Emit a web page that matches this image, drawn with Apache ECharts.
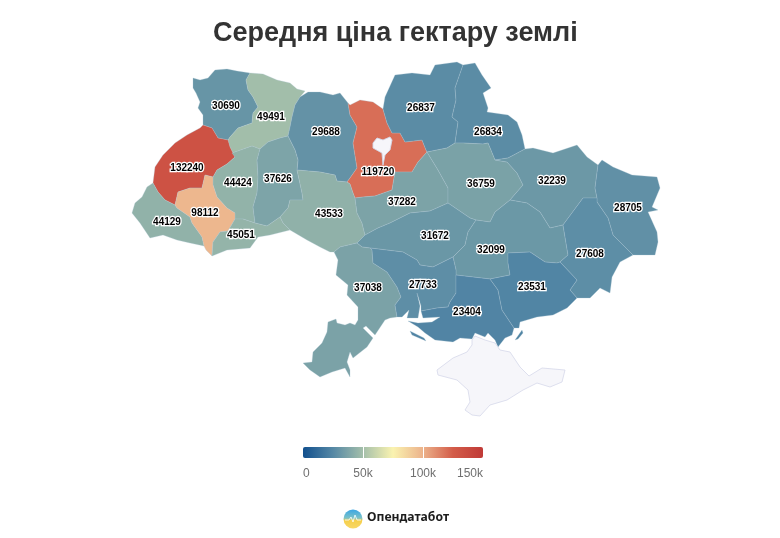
<!DOCTYPE html>
<html>
<head>
<meta charset="utf-8">
<style>html,body{margin:0;background:#fff}#main{width:780px;height:538px}</style>
<script src="https://cdn.jsdelivr.net/npm/echarts@6/dist/echarts.min.js"></script>
</head>
<body>
<div id="main"></div>
<script>
var regionNames = ['Volyn','Rivne','Zhytomyr','Kyiv','Chernihiv','Sumy','Lviv','Ternopil','Khmelnytskyi','Vinnytsia','Zakarpattia','IvanoFrankivsk','Chernivtsi','Cherkasy','Poltava','Kharkiv','Luhansk','Kirovohrad','Dnipro','Donetsk','Odesa','Mykolaiv','Kherson','Zaporizhzhia','Crimea','KyivCity'];
var regionValues = [30690,49491,29688,119720,26837,26834,132240,44424,37626,43533,44129,98112,45051,37282,36759,32239,28705,31672,32099,27608,37038,27733,23404,23531,null,null];
var legendTicks = [50000,100000];
var legendMax = 150000;
var palette = ['#12508e','#5588a5','#a4bfaa','#faf3b0','#ecb28b','#d35c49','#c03a37'];

// outlines, shared borders kept once
var arcs = {
  volN:'193,78 200,80 208,78 215,70 227,69 237,71 250,73',
  volRiv:'250,73 246,80 248,90 253,97 258,107 253,113 252,123 238,128 230,137 228,140',
  volLviv:'228,140 218,138 212,128 203,125',
  volW:'203,125 203,115 198,108 200,102 196,93 193,88 193,78',
  rivN:'250,73 263,74 277,80 290,83 297,89 305,91 300,97',
  rivZhy:'300,97 295,105 292,117 290,127 288,136',
  rivKhm:'288,136 280,138 268,142 260,149',
  rivTer:'260,149 252,146 232,153 235,157',
  rivLviv:'235,157 230,147 228,140',
  lvivTer:'235,157 227,164 217,170 213,177',
  lvivIf:'213,177 205,175 202,188 190,188 178,192 175,205',
  lvivZak:'175,205 165,200 158,192 153,183',
  lvivW:'153,183 155,167 163,155 175,143 187,135 200,128 203,125',
  ifTer:'213,177 213,185 217,197 227,208 235,213 235,219',
  ifChe:'235,219 228,231 220,232 213,242 212,256',
  ifS:'212,256 206,250 204,246',
  ifZak:'204,246 202,237 192,223 190,217 177,208 175,205',
  zakS:'204,246 190,243 177,240 163,235 150,238 140,223 132,213 135,203 142,197 147,187 153,183',
  terChe:'235,219 243,219 255,223',
  terKhm:'260,149 257,160 258,177 257,193 253,207 255,223',
  khmChe:'255,223 267,226 280,217',
  vinChe:'280,217 283,223 290,230',
  cheS:'290,230 270,235 258,237 250,248 227,250 212,256',
  khmZhy:'288,136 295,150 298,160 297,170',
  khmVin:'297,170 302,193 303,200 290,200 288,208 280,217',
  zhyVin:'297,170 320,172 335,175 337,181 347,182',
  zhyN:'300,97 308,92 320,92 333,95 340,93 348,103',
  zhyKyi:'348,103 350,115 357,127 353,143 357,168 350,178 347,182',
  vinKyi:'347,182 350,184 353,193 355,198',
  vinChk:'355,198 357,213 362,223 365,235',
  vinKir:'365,235 357,243',
  vinOde:'357,243 340,247 334,252',
  vinS:'334,252 330,252 320,247 307,240 290,230',
  kyiN:'348,103 350,105 360,100 373,102 383,109',
  kyiChn:'383,109 387,123 392,133 400,133 405,142 422,140 426,150 427,152',
  kyiChk:'427,152 418,162 412,172 395,172 392,190 375,196 363,197 355,198',
  chkPol:'427,152 438,170 448,188 448,203',
  chkKir:'365,235 378,228 390,223 410,213 430,211 448,203',
  chnN:'383,109 385,97 395,75 412,73 430,75 435,65 457,62 463,65',
  chnSum:'463,65 455,88 456,100 452,117 458,122 455,143',
  chnPol:'427,152 447,148 455,143',
  sumN:'463,65 475,63 482,75 491,88 483,93 488,108 487,112 508,115 517,122 522,135 525,149',
  sumKha:'525,149 508,158 495,160',
  sumPol:'455,143 463,143 483,144 488,143 495,160',
  polKha:'495,160 507,162 517,173 523,185 510,200',
  polDni:'510,200 495,212 490,222 476,220',
  polKir:'476,220 470,218 448,203',
  kirDni:'476,220 468,232 465,245 453,257',
  kirOde:'357,243 362,247 370,248',
  kirMyk:'370,248 403,252 417,260 420,265 433,267 453,257',
  mykDni:'453,257 456,270 456,275',
  kheDni:'456,275 490,279',
  zapDni:'490,279 510,275 508,263 508,253 530,252 545,262 557,263 560,262',
  donDni:'560,262 568,255 563,225',
  khaDni:'563,225 550,228 540,212 527,203 510,200',
  khaN:'525,149 533,148 553,153 577,145 587,157 598,165',
  khaLuh:'598,165 595,188 597,198',
  khaDon:'597,198 583,198 563,225',
  luhN:'598,165 602,160 613,167 632,175 657,177 660,188 652,207 658,210 648,212 657,232 658,242 655,255 633,255',
  luhDon:'597,198 597,202 608,218 613,235 633,255',
  donS:'633,255 620,262 612,277 610,293 600,288 590,298 577,298',
  donZap:'560,262 577,280 570,290 577,298',
  zapS:'577,298 567,308 553,315 537,317 520,322 519,328 514,328',
  zapKhe:'490,279 498,290 502,310 514,328',
  kheS:'514,328 512,335 505,338 498,347 495,340 488,333 485,337 475,333 472,339 460,338 453,342 435,340 425,333 418,327 408,321 418,323 432,322 440,317 423,318 421,311',
  mykKhe:'456,275 456,293 450,302 448,307 437,308 421,311',
  mykS:'397,317 402,317 409,310 407,318 418,318 420,306 417,293 421,306 421,311',
  odeMyk:'370,248 372,250 373,263 387,272 397,287 401,297 395,305 397,317',
  odeS:'334,252 338,260 336,275 348,285 347,295 358,307 358,320 355,325 350,323 345,325 337,323 336,319 328,322 327,332 322,343 313,352 312,362 303,363 310,370 320,377 332,372 345,368 350,377 350,370 347,362 350,352 353,358 367,347 373,338 363,328 366,326 375,335 385,320 390,318 397,317',
  crimea:'472,340 475,336 485,340 495,343 500,350 510,352 520,367 529,376 542,368 565,370 562,382 550,387 537,383 523,390 507,400 490,405 480,416 472,415 465,410 470,402 468,390 457,380 438,375 437,370 453,358 467,352 472,345 472,340',
  city:'373,143 377,138 383,140 390,137 392,140 390,150 385,155 383,165 382,153 373,148 373,143',
  tendra:'410,331 424,338 426,341 412,335 410,331',
  spit:'515,340 522,330 523,333 518,339 515,340'
};

var regionRings = {
  Volyn:[['volN','volRiv','volLviv','volW']],
  Rivne:[['rivN','rivZhy','rivKhm','rivTer','rivLviv','-volRiv']],
  Lviv:[['-volLviv','-rivLviv','lvivTer','lvivIf','lvivZak','lvivW']],
  Ternopil:[['-rivTer','terKhm','-terChe','-ifTer','-lvivTer']],
  IvanoFrankivsk:[['ifTer','ifChe','ifS','ifZak','-lvivIf']],
  Zakarpattia:[['-ifZak','zakS','-lvivZak']],
  Chernivtsi:[['terChe','khmChe','vinChe','cheS','-ifChe']],
  Khmelnytskyi:[['-rivKhm','khmZhy','khmVin','-khmChe','-terKhm']],
  Zhytomyr:[['zhyN','zhyKyi','-zhyVin','-khmZhy','-rivZhy']],
  Vinnytsia:[['zhyVin','vinKyi','vinChk','vinKir','vinOde','vinS','-vinChe','-khmVin']],
  Kyiv:[['kyiN','kyiChn','kyiChk','-vinKyi','-zhyKyi'],['city']],
  Cherkasy:[['-kyiChk','chkPol','-chkKir','-vinChk']],
  Chernihiv:[['chnN','chnSum','-chnPol','-kyiChn']],
  Sumy:[['sumN','sumKha','-sumPol','-chnSum']],
  Poltava:[['chnPol','sumPol','polKha','polDni','polKir','-chkPol']],
  Kharkiv:[['khaN','khaLuh','khaDon','khaDni','-polKha','-sumKha']],
  Luhansk:[['luhN','-luhDon','-khaLuh']],
  Donetsk:[['luhDon','donS','-donZap','donDni','-khaDon']],
  Dnipro:[['-polDni','-khaDni','-donDni','-zapDni','-kheDni','-mykDni','-kirDni']],
  Kirovohrad:[['chkKir','-polKir','kirDni','-kirMyk','-kirOde','-vinKir']],
  Odesa:[['odeS','-odeMyk','-kirOde','vinOde']],
  Mykolaiv:[['odeMyk','mykS','-mykKhe','-mykDni','-kirMyk']],
  Kherson:[['kheDni','zapKhe','kheS','-mykKhe']],
  Zaporizhzhia:[['-zapDni','zapKhe','-zapS','-donZap']],
  Crimea:[['crimea']],
  KyivCity:[['city']]
};
var extraParts = {Kherson:['tendra'], Zaporizhzhia:['spit']};

var labelAt = {
  Volyn:[226,106],Rivne:[271,117],Zhytomyr:[326,132],Kyiv:[378,172],Chernihiv:[421,108],Sumy:[488,132],
  Lviv:[187,168],Ternopil:[238,183],Khmelnytskyi:[278,179],Vinnytsia:[329,214],Zakarpattia:[167,222],
  IvanoFrankivsk:[205,213],Chernivtsi:[241,235],Cherkasy:[402,202],Poltava:[481,184],Kharkiv:[552,181],
  Luhansk:[628,208],Kirovohrad:[435,236],Dnipro:[491,250],Donetsk:[590,254],Odesa:[368,288],
  Mykolaiv:[423,285],Kherson:[467,312],Zaporizhzhia:[532,287]
};

function arcPoints (ref) {
  var rev = ref.charAt(0) == '-';
  var pts = arcs[rev ? ref.slice(1) : ref].split(' ').map(function (p) {
    return p.split(',').map(Number);
  });
  return rev ? pts.reverse() : pts;
}
function buildRing (refs) {
  var ring = [];
  refs.forEach(function (r) { ring = ring.concat(arcPoints(r)); });
  ring.push(ring[0]);
  return ring;
}
var minX = 1e9, minY = 1e9, maxX = -1e9, maxY = -1e9;
var features = regionNames.map(function (name) {
  var rings = regionRings[name].map(buildRing);
  var polys = [rings].concat((extraParts[name] || []).map(function (a) { return [buildRing([a])]; }));
  polys.forEach(function (poly) {
    poly[0].forEach(function (p) {
      minX = Math.min(minX, p[0]); maxX = Math.max(maxX, p[0]);
      minY = Math.min(minY, p[1]); maxY = Math.max(maxY, p[1]);
    });
  });
  return {
    type: 'Feature',
    properties: {name: name, cp: labelAt[name]},
    geometry: {type: 'MultiPolygon', coordinates: polys}
  };
});
echarts.registerMap('ukraine', {type: 'FeatureCollection', features: features});

var myChart = echarts.init(document.getElementById('main'));
var legendStops = palette.map(function (c, i) {
  return {offset: i / (palette.length - 1), color: c};
});

myChart.setOption({
  animation: false,
  backgroundColor: '#fff',
  textStyle: {fontFamily: 'Arial, "Liberation Sans", sans-serif'},
  title: {
    text: 'Середня ціна гектару землі',
    left: 208,
    top: 15,
    textStyle: {fontSize: 27, fontWeight: 'bold', color: '#333'}
  },
  visualMap: {
    show: false,
    type: 'continuous',
    seriesIndex: 0,
    min: 0,
    max: legendMax,
    inRange: {color: palette}
  },
  grid: {left: 303, top: 447, width: 180, height: 11},
  xAxis: {
    type: 'value',
    min: 0,
    max: legendMax,
    interval: 50000,
    axisLine: {show: false},
    axisTick: {show: false},
    splitLine: {show: false},
    axisLabel: {
      color: '#6f6f6f',
      fontSize: 12,
      margin: 10,
      alignMinLabel: 'left',
      alignMaxLabel: 'right',
      formatter: function (v) { return v ? v / 1000 + 'k' : '0'; }
    }
  },
  yAxis: {type: 'category', show: false, data: ['legend']},
  series: [
    {
      type: 'map',
      map: 'ukraine',
      projection: {
        project: function (p) { return p; },
        unproject: function (p) { return p; }
      },
      roam: false,
      silent: true,
      left: minX,
      top: minY,
      width: maxX - minX,
      height: maxY - minY,
      itemStyle: {areaColor: '#f6f6fa', borderColor: 'rgba(170,195,210,0.35)', borderWidth: 0.8},
      label: {
        show: true,
        color: '#000',
        fontSize: 10,
        fontWeight: 'bold',
        textBorderColor: '#fff',
        textBorderWidth: 2.5,
        formatter: function (p) { return isNaN(p.value) ? '' : p.value; }
      },
      data: regionNames.map(function (n, i) {
        var v = regionValues[i];
        if (v === null) {
          return {name: n, value: NaN, itemStyle: {borderColor: '#d5d8ea'}};
        }
        return {name: n, value: v};
      })
    },
    {
      type: 'bar',
      barWidth: '100%',
      silent: true,
      data: [legendMax],
      itemStyle: {
        borderRadius: 2,
        color: new echarts.graphic.LinearGradient(0, 0, 1, 0, legendStops)
      },
      markLine: {
        silent: true,
        symbol: 'none',
        label: {show: false},
        lineStyle: {color: '#fff', width: 1, type: 'solid'},
        data: legendTicks.map(function (t) { return {xAxis: t}; })
      }
    }
  ],
  graphic: [
    {
      type: 'circle',
      shape: {cx: 353, cy: 519, r: 9.5},
      style: {
        fill: new echarts.graphic.LinearGradient(0, 0, 0, 1, [
          {offset: 0, color: '#3aa6e4'},
          {offset: 0.45, color: '#7cc2c8'},
          {offset: 0.58, color: '#f5cf4c'},
          {offset: 1, color: '#f8d765'}
        ])
      }
    },
    {
      type: 'polyline',
      shape: {points: [[345, 520], [349, 520], [351, 517], [353, 522], [355, 515], [357, 520], [361, 520]]},
      style: {stroke: '#fff', lineWidth: 0.8, fill: null}
    },
    {
      type: 'text',
      left: 367,
      top: 512,
      style: {text: 'Опендатабот', fill: '#1c1c1c', font: 'bold 12.2px "Noto Sans", sans-serif'}
    }
  ]
});
</script>
</body>
</html>
